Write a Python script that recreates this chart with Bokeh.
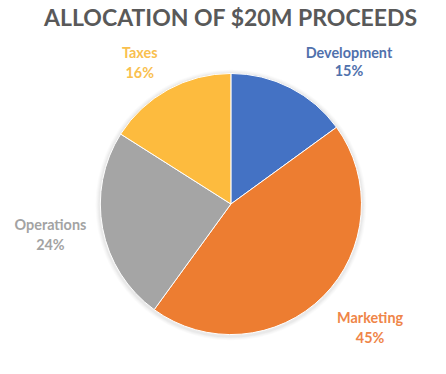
from math import pi
from bokeh.plotting import figure
from bokeh.models import Range1d, ColumnDataSource
from bokeh.core.properties import value
from bokeh.embed import file_html
from bokeh.resources import INLINE

# ---- data ----
categories = ["Development", "Marketing", "Operations", "Taxes"]
shares = [15, 45, 24, 16]
pct_labels = ["15%", "45%", "24%", "16%"]

# ---- style / layout ----
slice_colors = ["#4472C4", "#ED7D31", "#A5A5A5", "#FDBB3E"]
label_colors = ["#5071AC", "#EF8548", "#A3A3A3", "#F9C04E"]
W, H = 430, 358
S = 0.96  # uniform scale from reference frame to canvas
cx, cy_px, radius = 240, 212, 136
label_x = [363, 385, 52, 145]
name_y_px = [54, 330, 233, 54]
pct_y_px = [73, 351, 254, 75]

def fy(py):
    return 374 - py

total = float(sum(shares))
starts, ends = [], []
acc = 0.0
for s in shares:
    starts.append(pi / 2 - acc / total * 2 * pi)
    acc += s
    ends.append(pi / 2 - acc / total * 2 * pi)

src = ColumnDataSource(dict(cat=categories, start=starts, end=ends, color=slice_colors))

p = figure(width=W, height=H, x_range=Range1d(0, W / S), y_range=Range1d(374 - H / S, 374),
           output_backend="svg", toolbar_location=None, min_border=0)
p.axis.visible = False
p.grid.visible = False
p.outline_line_color = None
p.background_fill_color = "white"
p.border_fill_color = "white"

# soft shadow
for k, a in [(5, 0.03), (4, 0.04), (3, 0.05), (2, 0.06)]:
    p.circle(x=[cx], y=[fy(cy_px) - 1], radius=radius + k, fill_color="#808080",
             fill_alpha=a, line_color=None)

p.wedge(x=cx, y=fy(cy_px), radius=radius, start_angle="start", end_angle="end",
        direction="clock", fill_color="color", line_color="white", line_width=1, source=src)

lab = ColumnDataSource(dict(x=label_x, ny=[fy(v) for v in name_y_px], py=[fy(v) for v in pct_y_px],
                            name=categories, pct=pct_labels, c=label_colors))
fs = "%.1fpx" % (15 * S)
p.text(x="x", y="ny", text="name", text_color="c", text_align="center", text_baseline="middle",
       text_font=value("Lato"), text_font_style="bold", text_font_size=fs, source=lab)
p.text(x="x", y="py", text="pct", text_color="c", text_align="center", text_baseline="middle",
       text_font=value("Lato"), text_font_style="bold", text_font_size=fs, source=lab)

p.text(x=[240], y=[fy(17)], text=["ALLOCATION OF $20M PROCEEDS"], text_color="#595959",
       text_align="center", text_baseline="middle", text_font=value("Lato"),
       text_font_style="bold", text_font_size="%.1fpx" % (24 * S))

open("out.html", "w").write(file_html(p, INLINE))
